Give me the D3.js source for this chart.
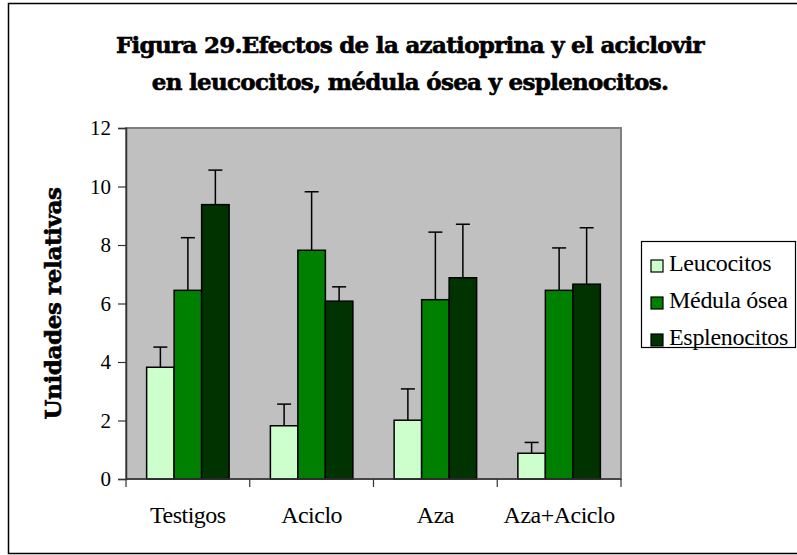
<!DOCTYPE html>
<html><head><meta charset="utf-8">
<script src="https://cdnjs.cloudflare.com/ajax/libs/d3/7.8.5/d3.min.js"></script>
<style>body{margin:0;background:#fff}svg{display:block}</style>
</head><body>
<script>
const titleLines = ["Figura 29.Efectos de la azatioprina y el aciclovir", "en leucocitos, médula ósea y esplenocitos."];
const yTitle = "Unidades relativas";
const categories = ["Testigos", "Aciclo", "Aza", "Aza+Aciclo"];
const seriesNames = ["Leucocitos", "Médula ósea", "Esplenocitos"];
const seriesColors = ["#CCFFCC", "#008000", "#003300"];
const leucocitos = [3.82, 1.82, 2.01, 0.88];
const medula = [6.45, 7.82, 6.13, 6.45];
const esplenocitos = [9.38, 6.08, 6.88, 6.66];
const errLeucocitos = [0.69, 0.74, 1.07, 0.37];
const errMedula = [1.80, 2.00, 2.31, 1.45];
const errEsplenocitos = [1.18, 0.49, 1.83, 1.93];
const yTicks = [0, 2, 4, 6, 8, 10, 12];

const values = [leucocitos, medula, esplenocitos];
const errors = [errLeucocitos, errMedula, errEsplenocitos];

const W = 797, H = 555;
const svg = d3.select("body").append("svg").attr("width", W).attr("height", H);

// outer chart border
svg.append("rect").attr("x", 8.5).attr("y", 3.5).attr("width", 800).attr("height", 550)
  .attr("fill", "#fff").attr("stroke", "#000").attr("stroke-width", 1.5);

const plot = {left: 126, right: 621, top: 128, bottom: 479};
const x0 = d3.scaleBand().domain(categories).range([plot.left, plot.right]).paddingInner(0).paddingOuter(0);
const x1 = d3.scaleBand().domain(seriesNames).range([0, x0.bandwidth()]).paddingOuter(0.75).paddingInner(0);
const y = d3.scaleLinear().domain([0, 12]).range([plot.bottom, plot.top]);

// plot area
svg.append("rect").attr("x", plot.left).attr("y", plot.top)
  .attr("width", plot.right - plot.left).attr("height", plot.bottom - plot.top)
  .attr("fill", "#C0C0C0").attr("stroke", "#808080").attr("stroke-width", 2);

// bars
const rows = [];
categories.forEach((c, i) => seriesNames.forEach((s, j) => rows.push({c, s, j, v: values[j][i], e: errors[j][i]})));
const g = svg.append("g");
g.selectAll("rect.bar").data(rows).join("rect").attr("class", "bar")
  .attr("x", d => x0(d.c) + x1(d.s))
  .attr("y", d => y(d.v))
  .attr("width", x1.bandwidth())
  .attr("height", d => y(0) - y(d.v))
  .attr("fill", d => seriesColors[d.j])
  .attr("stroke", "#000").attr("stroke-width", 1.5);

// error bars (plus only)
const eb = g.selectAll("g.err").data(rows).join("g").attr("class", "err")
  .attr("stroke", "#000").attr("stroke-width", 1.5);
eb.append("line")
  .attr("x1", d => x0(d.c) + x1(d.s) + x1.bandwidth() / 2)
  .attr("x2", d => x0(d.c) + x1(d.s) + x1.bandwidth() / 2)
  .attr("y1", d => y(d.v)).attr("y2", d => y(d.v + d.e));
eb.append("line")
  .attr("x1", d => x0(d.c) + x1(d.s) + x1.bandwidth() / 2 - 7)
  .attr("x2", d => x0(d.c) + x1(d.s) + x1.bandwidth() / 2 + 7)
  .attr("y1", d => y(d.v + d.e)).attr("y2", d => y(d.v + d.e));

// y axis
const yAxis = svg.append("g").attr("transform", `translate(${plot.left},0)`)
  .call(d3.axisLeft(y).tickValues(yTicks).tickSize(8).tickPadding(7).tickFormat(d3.format("d")));
yAxis.select(".domain").attr("stroke", "#333").attr("stroke-width", 1.5);
yAxis.selectAll(".tick line").attr("stroke", "#333").attr("stroke-width", 1.2);
yAxis.selectAll(".tick text").attr("font-family", "'Liberation Serif', serif").attr("font-size", 21).attr("fill", "#000");

// x axis line with ticks at category boundaries
const xAxisG = svg.append("g");
xAxisG.append("line").attr("x1", plot.left).attr("x2", plot.right).attr("y1", plot.bottom).attr("y2", plot.bottom)
  .attr("stroke", "#333").attr("stroke-width", 1.5);
const bounds = categories.map(c => x0(c)).concat([x0(categories[categories.length - 1]) + x0.bandwidth()]);
xAxisG.selectAll("line.tk").data(bounds).join("line").attr("class", "tk")
  .attr("x1", d => d).attr("x2", d => d).attr("y1", plot.bottom).attr("y2", plot.bottom + 8)
  .attr("stroke", "#333").attr("stroke-width", 1.2);
xAxisG.selectAll("text").data(categories).join("text")
  .attr("x", d => x0(d) + x0.bandwidth() / 2).attr("y", 523)
  .attr("text-anchor", "middle").attr("font-family", "'Liberation Serif', serif")
  .attr("font-size", 24).attr("letter-spacing", -0.5).text(d => d);

// title
svg.selectAll("text.title").data(titleLines).join("text").attr("class", "title")
  .attr("x", 410).attr("y", (d, i) => 53 + i * 37)
  .attr("text-anchor", "middle").attr("font-family", "'DejaVu Serif', serif")
  .attr("font-weight", "bold").attr("font-size", 23).attr("letter-spacing", -0.7)
  .attr("stroke", "#000").attr("stroke-width", 0.6)
  .text(d => d);

// y title
svg.append("text").attr("transform", `translate(61,${(plot.top + plot.bottom) / 2}) rotate(-90)`)
  .attr("text-anchor", "middle").attr("font-family", "'DejaVu Serif', serif")
  .attr("font-weight", "bold").attr("font-size", 23).attr("letter-spacing", -0.4)
  .attr("stroke", "#000").attr("stroke-width", 0.6)
  .text(yTitle);

// legend
const lg = svg.append("g");
lg.append("rect").attr("x", 641.5).attr("y", 241.5).attr("width", 154).attr("height", 106)
  .attr("fill", "#fff").attr("stroke", "#000").attr("stroke-width", 1.2);
const li = lg.selectAll("g.li").data(seriesNames).join("g").attr("class", "li")
  .attr("transform", (d, i) => `translate(0,${271 + i * 37})`);
li.append("rect").attr("x", 651).attr("y", -11).attr("width", 12).attr("height", 12)
  .attr("fill", (d, i) => seriesColors[i]).attr("stroke", "#000").attr("stroke-width", 1.2);
li.append("text").attr("x", 669).attr("y", 0).attr("font-family", "'Liberation Serif', serif")
  .attr("font-size", 24).attr("letter-spacing", -0.3).text(d => d);
</script>
</body></html>
